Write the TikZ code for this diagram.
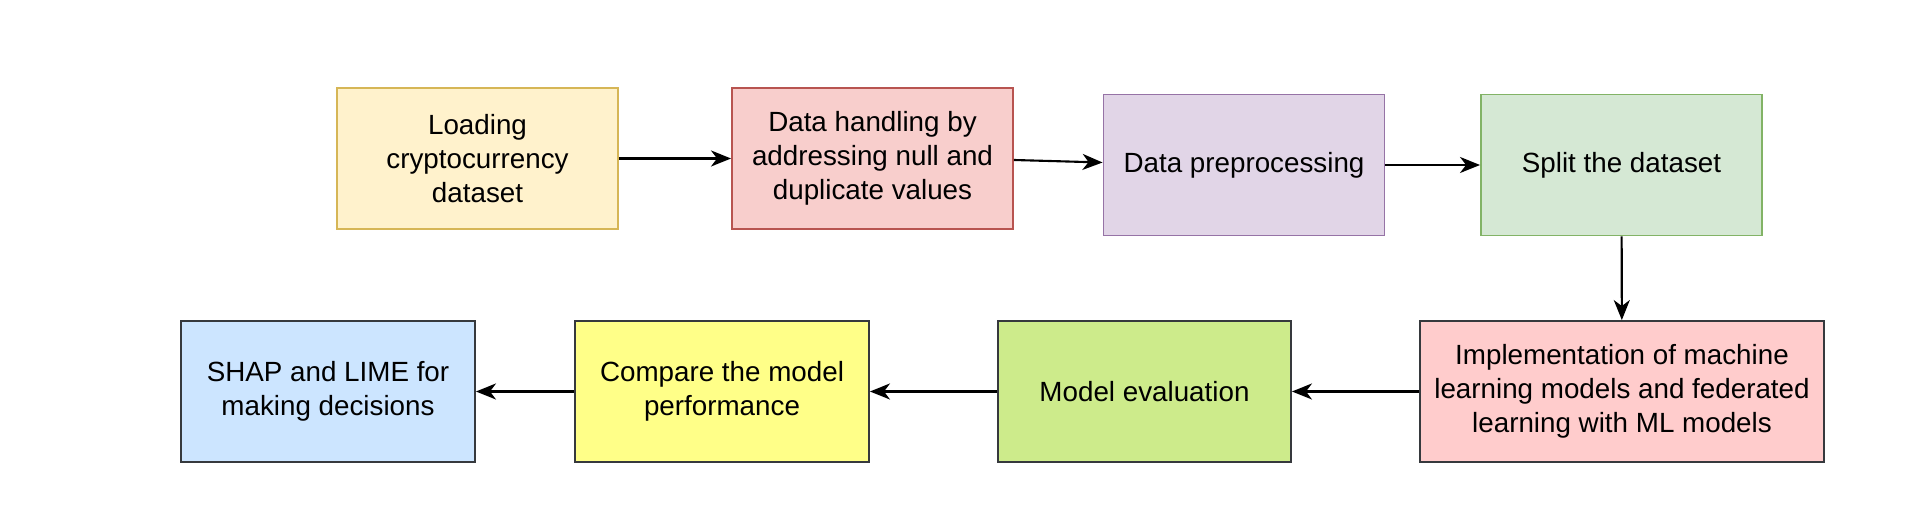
\documentclass[tikz,border=0pt]{standalone}
\usepackage{fontspec}
\setmainfont{Liberation Sans}
\usetikzlibrary{arrows.meta}

\definecolor{amarilloF}{HTML}{FFF2CC}
\definecolor{amarilloB}{HTML}{D6B656}
\definecolor{rojoF}{HTML}{F8CECC}
\definecolor{rojoB}{HTML}{B85450}
\definecolor{moradoF}{HTML}{E1D5E7}
\definecolor{moradoB}{HTML}{9673A6}
\definecolor{verdeF}{HTML}{D5E8D4}
\definecolor{verdeB}{HTML}{82B366}
\definecolor{grisB}{HTML}{36393D}
\definecolor{rosaF}{HTML}{FFCCCC}
\definecolor{limaF}{HTML}{CDEB8B}
\definecolor{limonF}{HTML}{FFFF88}
\definecolor{azulF}{HTML}{CCE5FF}

\begin{document}
\begin{tikzpicture}[x=0.01cm,y=-0.01cm,
        caja/.style={rectangle, draw, line width=0.5pt, align=center,
            minimum width=2.81cm, minimum height=1.41cm, inner sep=2pt,
            font=\fontsize{7.9pt}{9.6pt}\selectfont},
        flecha/.style={line width=0.6pt, -{Stealth[length=0.2cm,width=0.16cm,inset=0.06cm]}}]
        \useasboundingbox (0,0) rectangle (1920,528);

        % Fila superior
        \node[caja, fill=amarilloF, draw=amarilloB] (carga) at (477.5,158.5)
            {Loading\\cryptocurrency\\dataset};
        \node[caja, fill=rojoF, draw=rojoB] (limpieza) at (872.5,158.5)
            {Data handling by\\addressing null and\\duplicate values};
        \node[caja, fill=moradoF, draw=moradoB] (prepro) at (1244,165)
            {Data preprocessing};
        \node[caja, fill=verdeF, draw=verdeB] (division) at (1621.5,165)
            {Split the dataset};

        % Fila inferior
        \node[caja, fill=rosaF, draw=grisB, minimum width=4.04cm] (modelos) at (1622,391.5)
            {Implementation of machine\\learning models and federated\\learning with ML models};
        \node[caja, fill=limaF, draw=grisB, minimum width=2.93cm] (evaluacion) at (1144.5,391.5)
            {Model evaluation};
        \node[caja, fill=limonF, draw=grisB, minimum width=2.94cm] (comparar) at (722,391.5)
            {Compare the model\\performance};
        \node[caja, fill=azulF, draw=grisB, minimum width=2.94cm] (explicar) at (328,391.5)
            {SHAP and LIME for\\making decisions};

        % Flechas
        \draw[flecha] (carga) -- (limpieza);
        \draw[flecha] ([yshift=-0.015cm]limpieza.east) -- ([yshift=0.025cm]prepro.west);
        \draw[flecha] (prepro) -- (division);
        \draw[flecha] (division) -- (modelos);
        \draw[flecha] (modelos) -- (evaluacion);
        \draw[flecha] (evaluacion) -- (comparar);
        \draw[flecha] (comparar) -- (explicar);
    \end{tikzpicture}
\end{document}
